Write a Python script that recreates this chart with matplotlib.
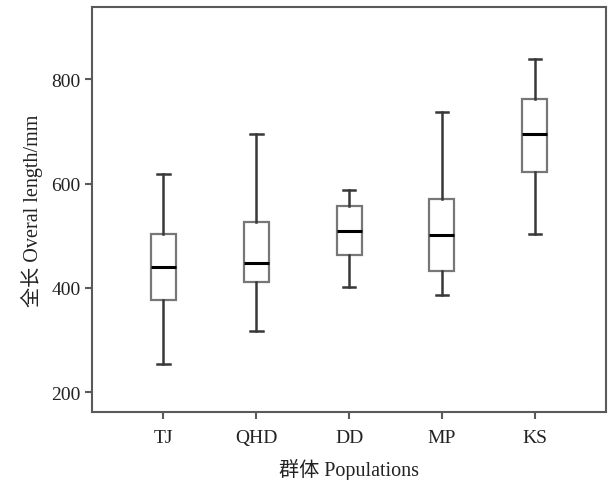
import matplotlib
matplotlib.use('Agg')
import matplotlib.pyplot as plt

plt.rcParams['font.family'] = ['Liberation Serif', 'Noto Sans CJK SC']

# Box plot summaries
populations = ['TJ', 'QHD', 'DD', 'MP', 'KS']
whisker_low = [255, 318, 401, 387, 503]
q1 = [377, 411, 463, 432, 622]
median = [440, 447, 509, 501, 695]
q3 = [504, 527, 557, 570, 762]
whisker_high = [618, 695, 587, 738, 839]

stats = []
for i, name in enumerate(populations):
    stats.append({
        'label': name,
        'whislo': whisker_low[i],
        'q1': q1[i],
        'med': median[i],
        'q3': q3[i],
        'whishi': whisker_high[i],
        'fliers': [],
    })

fig = plt.figure(figsize=(6.13, 4.81), dpi=100)
ax = fig.add_axes([0.150, 0.141, 0.839, 0.842])

edge = '#5a5a5a'
ax.bxp(stats, positions=range(1, 6), widths=0.27, showfliers=False,
       patch_artist=True,
       boxprops=dict(facecolor='white', edgecolor='#777777', linewidth=1.6),
       whiskerprops=dict(color='#383838', linewidth=1.8),
       capprops=dict(color='#383838', linewidth=1.8),
       medianprops=dict(color='black', linewidth=2.2))

ax.set_xlim(0.23, 5.77)
ax.set_ylim(162, 938)
ax.set_yticks([200, 400, 600, 800])

for s in ax.spines.values():
    s.set_color(edge)
    s.set_linewidth(1.5)
ax.tick_params(axis='both', direction='out', length=5, width=1.5,
               color=edge, labelsize=14, labelcolor='#222222', pad=3)
ax.tick_params(axis='x', pad=7)

ax.set_xlabel('群体 Populations', fontsize=14.5, color='#222222', labelpad=9)
ax.set_ylabel('全长 Overal length/mm', fontsize=14.5, color='#222222', labelpad=6)

fig.savefig('out.png', dpi=100)
